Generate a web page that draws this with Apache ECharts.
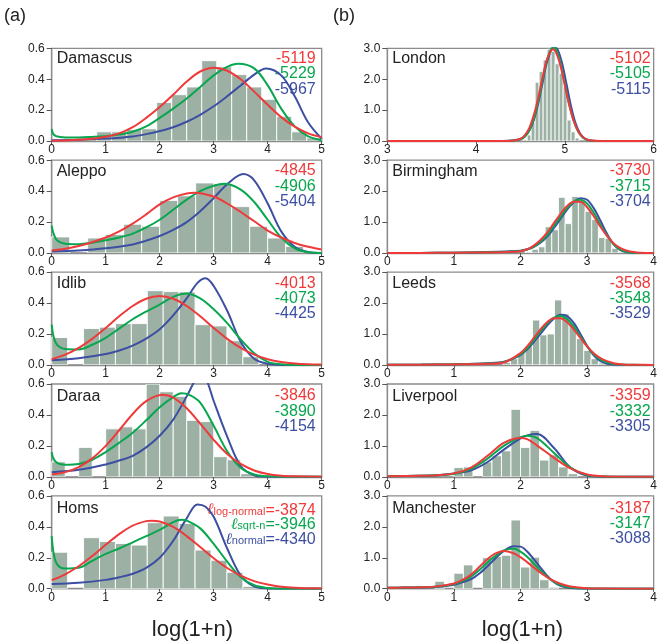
<!DOCTYPE html>
<html><head><meta charset="utf-8">
<script src="https://cdn.jsdelivr.net/npm/echarts@6.0.0/dist/echarts.min.js"></script>
<style>html,body{margin:0;padding:0;background:#fff}#c{width:660px;height:644px}</style>
</head><body><div id="c"></div>
<script>
// ---------- histogram data: [first bin edge, bin width] and bar heights ----------
const damascusBins = [0, 0.2778];
const damascusHist = [0,0,0,0.06,0.06,0.075,0.08,0.25,0.30,0.35,0.52,0.48,0.43,0.35,0.27,0.16,0.06,0.02];
const aleppoBins = [0, 0.3333];
const aleppoHist = [0.104,0,0.097,0.12,0.186,0.173,0.34,0.37,0.453,0.449,0.30,0.173,0.097,0.043];
const idlibBins = [0, 0.295];
const idlibHist = [0.177,0,0.235,0.244,0.267,0.267,0.48,0.474,0.472,0.26,0.252,0.156,0.053];
const daraaBins = [0, 0.25];
const daraaHist = [0.097,0,0.19,0,0.31,0.323,0.31,0.6,0.55,0.52,0.365,0.357,0.13,0.11,0.02];
const homsBins = [0, 0.295];
const homsHist = [0.236,0,0.33,0.305,0.292,0.282,0.427,0.47,0.422,0.25,0.184,0.106,0.015];
const londonBins = [4.53, 0.045];
const londonHist = [0.05,0.2,0.6,1.9,2.25,2.62,2.97,2.9,2.5,2.19,1.76,0.68,0.3,0.1];
const birminghamBins = [2.07, 0.1];
const birminghamHist = [0.03,0.12,0.2,0.85,0.75,1.8,0.95,1.83,1.7,1.35,1.08,0.5,0.48,0.15,0.03];
const leedsBins = [1.74, 0.11];
const leedsHist = [0.08,0.2,0.4,0.62,1.45,0.97,1.0,2.1,1.65,1.35,0.85,0.47,0.2,0.06];
const liverpoolBins = [1.0, 0.1429];
const liverpoolHist = [0.3,0.32,0,0.48,0.68,0.84,2.18,0.95,1.5,0.54,0.71,0.32,0.1];
const manchesterBins = [0.714, 0.1429];
const manchesterHist = [0.24,0,0.5,0.77,0,1.0,1.04,1.08,2.22,0.7,1.02,0.29,0.05];

// ---------- fitted curves ----------
const damascusRed = [[0,0.002],[0.25,0.004],[0.5,0.008],[0.75,0.015],[1,0.028],[1.25,0.05],[1.5,0.09],[1.75,0.15],[2,0.22],[2.25,0.30],[2.5,0.385],[2.75,0.45],[3,0.475],[3.25,0.455],[3.5,0.40],[3.75,0.32],[4,0.235],[4.25,0.155],[4.5,0.093],[4.75,0.05],[5,0.025]];
const damascusGreen = [[0,0.078],[0.03,0.045],[0.08,0.032],[0.15,0.027],[0.25,0.024],[0.5,0.024],[0.75,0.027],[1,0.032],[1.25,0.042],[1.5,0.06],[1.75,0.095],[2,0.15],[2.25,0.21],[2.5,0.275],[2.75,0.35],[3,0.425],[3.25,0.48],[3.45,0.50],[3.75,0.47],[4,0.36],[4.25,0.21],[4.5,0.095],[4.75,0.03],[5,0.006]];
const damascusBlue = [[0,0.006],[0.5,0.009],[1,0.016],[1.5,0.03],[1.75,0.045],[2,0.065],[2.25,0.09],[2.5,0.125],[2.75,0.17],[3,0.225],[3.25,0.29],[3.5,0.36],[3.75,0.43],[3.97,0.47],[4.25,0.425],[4.5,0.29],[4.75,0.12],[5,0.015]];

const aleppoRed = [[0,0.016],[0.25,0.027],[0.5,0.045],[0.75,0.07],[1,0.10],[1.25,0.14],[1.5,0.19],[1.75,0.25],[2,0.315],[2.25,0.36],[2.5,0.385],[2.65,0.39],[3,0.365],[3.25,0.32],[3.5,0.265],[3.75,0.205],[4,0.145],[4.25,0.10],[4.5,0.065],[4.75,0.04],[5,0.022]];
const aleppoGreen = [[0,0.177],[0.03,0.13],[0.08,0.09],[0.15,0.07],[0.25,0.06],[0.5,0.057],[0.75,0.067],[1,0.083],[1.25,0.10],[1.5,0.125],[1.75,0.165],[2,0.215],[2.25,0.28],[2.5,0.345],[2.75,0.40],[3,0.435],[3.2,0.447],[3.5,0.41],[3.75,0.33],[4,0.215],[4.25,0.10],[4.5,0.03],[4.75,0.005],[5,0]];
const aleppoBlue = [[0,0.01],[0.5,0.016],[1,0.03],[1.5,0.055],[1.75,0.08],[2,0.11],[2.25,0.15],[2.5,0.20],[2.75,0.27],[3,0.355],[3.25,0.445],[3.55,0.51],[3.75,0.47],[4,0.32],[4.25,0.14],[4.5,0.04],[4.75,0.006],[5,0]];

const idlibRed = [[0,0.037],[0.25,0.066],[0.5,0.11],[0.75,0.168],[1,0.239],[1.25,0.314],[1.5,0.381],[1.75,0.428],[2,0.445],[2.25,0.428],[2.5,0.381],[2.75,0.314],[3,0.239],[3.25,0.168],[3.5,0.11],[3.75,0.066],[4,0.037],[4.25,0.019],[4.5,0.009],[4.75,0.004],[5,0.002]];
const idlibGreen = [[0,0.26],[0.03,0.19],[0.08,0.14],[0.15,0.115],[0.25,0.103],[0.5,0.10],[0.75,0.13],[1,0.175],[1.25,0.235],[1.5,0.295],[1.75,0.345],[2,0.39],[2.25,0.44],[2.5,0.462],[2.75,0.43],[3,0.36],[3.25,0.27],[3.5,0.165],[3.75,0.075],[4,0.02],[4.25,0.004],[4.5,0],[5,0]];
const idlibBlue = [[0,0.03],[0.5,0.043],[1,0.07],[1.25,0.093],[1.5,0.125],[1.75,0.17],[2,0.23],[2.25,0.32],[2.5,0.43],[2.7,0.53],[2.85,0.56],[3,0.51],[3.25,0.35],[3.5,0.15],[3.75,0.04],[4,0.007],[4.25,0],[5,0]];

const daraaRed = [[0,0.015],[0.25,0.03],[0.5,0.063],[0.75,0.119],[1,0.2],[1.25,0.301],[1.5,0.406],[1.75,0.489],[2.05,0.53],[2.25,0.512],[2.5,0.443],[2.75,0.344],[3,0.239],[3.25,0.148],[3.5,0.083],[3.75,0.041],[4,0.018],[4.25,0.007],[4.5,0.003],[5,0.001]];
const daraaGreen = [[0,0.16],[0.03,0.12],[0.08,0.095],[0.15,0.083],[0.25,0.078],[0.5,0.083],[0.75,0.11],[1,0.16],[1.25,0.22],[1.5,0.285],[1.75,0.365],[2,0.45],[2.25,0.515],[2.4,0.54],[2.55,0.53],[2.75,0.48],[3,0.33],[3.25,0.165],[3.5,0.058],[3.75,0.015],[4,0.003],[4.25,0],[5,0]];
const daraaBlue = [[0,0.03],[0.5,0.045],[1,0.08],[1.25,0.105],[1.5,0.135],[1.75,0.19],[2,0.265],[2.25,0.37],[2.5,0.52],[2.65,0.62],[2.75,0.66],[2.85,0.64],[3,0.49],[3.25,0.26],[3.5,0.07],[3.75,0.01],[4,0],[5,0]];

const homsRed = [[0,0.055],[0.25,0.093],[0.5,0.145],[0.75,0.211],[1,0.284],[1.25,0.353],[1.5,0.408],[1.75,0.437],[1.85,0.44],[2,0.434],[2.25,0.399],[2.5,0.34],[2.75,0.269],[3,0.197],[3.25,0.134],[3.5,0.084],[3.75,0.049],[4,0.027],[4.25,0.013],[4.5,0.006],[4.75,0.003],[5,0.001]];
const homsGreen = [[0,0.34],[0.03,0.24],[0.08,0.17],[0.15,0.14],[0.25,0.13],[0.5,0.135],[0.75,0.18],[1,0.225],[1.25,0.26],[1.5,0.30],[1.75,0.34],[2,0.38],[2.25,0.43],[2.4,0.445],[2.5,0.44],[2.75,0.39],[3,0.29],[3.25,0.175],[3.5,0.075],[3.75,0.022],[4,0.005],[4.25,0],[5,0]];
const homsBlue = [[0,0.03],[0.5,0.038],[1,0.057],[1.25,0.074],[1.5,0.097],[1.75,0.135],[2,0.2],[2.25,0.31],[2.5,0.455],[2.7,0.545],[2.85,0.53],[3,0.465],[3.25,0.26],[3.5,0.085],[3.75,0.015],[4,0.002],[4.25,0],[5,0]];

const londonRed = [[3,0],[4.3,0.001],[4.4,0.008],[4.5,0.077],[4.55,0.196],[4.6,0.43],[4.65,0.84],[4.7,1.41],[4.75,2.07],[4.8,2.65],[4.865,2.97],[4.9,2.87],[4.95,2.44],[5,1.80],[5.05,1.16],[5.1,0.65],[5.15,0.32],[5.2,0.136],[5.25,0.05],[5.3,0.017],[5.4,0.001],[6,0]];
const londonGreen = [[3,0],[4.3,0.002],[4.4,0.01],[4.5,0.055],[4.55,0.15],[4.6,0.35],[4.65,0.73],[4.7,1.30],[4.75,1.99],[4.8,2.64],[4.87,3.05],[4.9,2.97],[4.95,2.52],[5,1.85],[5.05,1.17],[5.1,0.64],[5.15,0.30],[5.2,0.12],[5.25,0.043],[5.3,0.013],[5.4,0.001],[6,0]];
const londonBlue = [[3,0],[4.3,0.004],[4.4,0.018],[4.5,0.07],[4.55,0.16],[4.6,0.34],[4.65,0.68],[4.7,1.22],[4.75,1.9],[4.8,2.56],[4.88,3.05],[4.92,2.95],[4.97,2.5],[5.02,1.82],[5.07,1.12],[5.12,0.58],[5.17,0.25],[5.22,0.09],[5.27,0.025],[5.35,0.003],[6,0]];

const birminghamX = [0,0.5,1.0,1.5,1.8,2.0,2.1,2.2,2.3,2.4,2.5,2.6,2.7,2.8,2.9,3.0,3.1,3.2,3.3,3.4,3.5,3.6,3.7,3.8,4.0];
const birminghamRed = [0,0.002,0.008,0.02,0.035,0.06,0.12,0.24,0.42,0.66,0.96,1.26,1.52,1.66,1.66,1.48,1.19,0.85,0.55,0.31,0.16,0.074,0.03,0.01,0.001];
const birminghamGreen = [0,0.003,0.01,0.025,0.04,0.065,0.11,0.2,0.36,0.58,0.87,1.17,1.45,1.66,1.72,1.6,1.3,0.92,0.56,0.28,0.11,0.035,0.01,0.002,0];
const birminghamBlue = [0,0.004,0.012,0.03,0.05,0.075,0.12,0.2,0.33,0.53,0.8,1.1,1.4,1.64,1.77,1.72,1.45,1.05,0.62,0.28,0.09,0.02,0.004,0,0];

const leedsX = [0,0.5,1.0,1.5,1.75,2.0,2.1,2.2,2.3,2.4,2.5,2.6,2.7,2.8,2.9,3.0,3.1,3.2,3.3,3.4,3.5,3.7,4.0];
const leedsRed = [0.002,0.006,0.015,0.035,0.08,0.38,0.60,0.87,1.15,1.38,1.51,1.51,1.38,1.15,0.87,0.60,0.38,0.22,0.12,0.055,0.022,0.003,0];
const leedsGreen = [0.003,0.008,0.02,0.045,0.09,0.34,0.54,0.8,1.08,1.34,1.52,1.58,1.48,1.24,0.92,0.6,0.34,0.17,0.075,0.028,0.009,0.001,0];
const leedsBlue = [0.004,0.01,0.025,0.055,0.1,0.32,0.5,0.74,1.0,1.27,1.49,1.62,1.58,1.36,1.0,0.62,0.31,0.12,0.04,0.01,0.002,0,0];

const liverpoolX = [0,0.5,0.75,1.0,1.25,1.5,1.75,2.0,2.1,2.25,2.5,2.75,3.0,3.25,3.5,4.0];
const liverpoolRed = [0.02,0.03,0.05,0.11,0.29,0.67,1.10,1.257,1.22,1.01,0.62,0.27,0.075,0.015,0.002,0];
const liverpoolGreen = [0.02,0.03,0.05,0.1,0.25,0.58,1.0,1.28,1.33,1.25,0.78,0.3,0.06,0.008,0.001,0];
const liverpoolBlue = [0.02,0.03,0.05,0.11,0.2,0.47,0.88,1.24,1.34,1.38,0.94,0.3,0.04,0.003,0,0];

const manchesterX = [0,0.25,0.5,0.75,1.0,1.1,1.25,1.4,1.5,1.6,1.75,1.9,2.0,2.1,2.25,2.4,2.5,2.6,2.75,3.0,3.25,4.0];
const manchesterRed = [0.03,0.035,0.045,0.075,0.17,0.25,0.44,0.74,0.95,1.11,1.22,1.14,1.02,0.86,0.60,0.37,0.25,0.16,0.072,0.014,0.003,0];
const manchesterGreen = [0.03,0.035,0.045,0.07,0.15,0.22,0.38,0.64,0.84,1.02,1.24,1.29,1.2,1.03,0.7,0.39,0.23,0.12,0.04,0.005,0,0];
const manchesterBlue = [0.03,0.035,0.04,0.065,0.13,0.19,0.3,0.52,0.72,0.93,1.22,1.37,1.36,1.2,0.82,0.42,0.22,0.09,0.02,0.001,0,0];

// ---------- log-likelihood scores [log-normal, sqrt-n, normal] ----------
const damascusScores = [-5119,-5229,-5967];
const aleppoScores = [-4845,-4906,-5404];
const idlibScores = [-4013,-4073,-4425];
const daraaScores = [-3846,-3890,-4154];
const homsScores = [-3874,-3946,-4340];
const londonScores = [-5102,-5105,-5115];
const birminghamScores = [-3730,-3715,-3704];
const leedsScores = [-3568,-3548,-3529];
const liverpoolScores = [-3359,-3332,-3305];
const manchesterScores = [-3187,-3147,-3088];
const modelNames = ['log-normal','sqrt-n','normal'];

const leftRange = [0, 5, 0.6, 0.2];
const londonRange = [3, 6, 3, 1];
const rightRange = [0, 4, 3, 1];

function zip(xs, ys){ return xs.map((x,i)=>[x, ys[i]]); }

const panels = [
 {title:'Damascus', col:0,row:0, r:leftRange, bins:damascusBins, hist:damascusHist, red:damascusRed, green:damascusGreen, blue:damascusBlue, scores:damascusScores},
 {title:'Aleppo', col:0,row:1, r:leftRange, bins:aleppoBins, hist:aleppoHist, red:aleppoRed, green:aleppoGreen, blue:aleppoBlue, scores:aleppoScores},
 {title:'Idlib', col:0,row:2, r:leftRange, bins:idlibBins, hist:idlibHist, red:idlibRed, green:idlibGreen, blue:idlibBlue, scores:idlibScores},
 {title:'Daraa', col:0,row:3, r:leftRange, bins:daraaBins, hist:daraaHist, red:daraaRed, green:daraaGreen, blue:daraaBlue, scores:daraaScores},
 {title:'Homs', col:0,row:4, r:leftRange, bins:homsBins, hist:homsHist, red:homsRed, green:homsGreen, blue:homsBlue, scores:homsScores, legend:true},
 {title:'London', col:1,row:0, r:londonRange, bins:londonBins, hist:londonHist, red:londonRed, green:londonGreen, blue:londonBlue, scores:londonScores},
 {title:'Birmingham', col:1,row:1, r:rightRange, bins:birminghamBins, hist:birminghamHist, red:zip(birminghamX,birminghamRed), green:zip(birminghamX,birminghamGreen), blue:zip(birminghamX,birminghamBlue), scores:birminghamScores},
 {title:'Leeds', col:1,row:2, r:rightRange, bins:leedsBins, hist:leedsHist, red:zip(leedsX,leedsRed), green:zip(leedsX,leedsGreen), blue:zip(leedsX,leedsBlue), scores:leedsScores},
 {title:'Liverpool', col:1,row:3, r:rightRange, bins:liverpoolBins, hist:liverpoolHist, red:zip(liverpoolX,liverpoolRed), green:zip(liverpoolX,liverpoolGreen), blue:zip(liverpoolX,liverpoolBlue), scores:liverpoolScores},
 {title:'Manchester', col:1,row:4, r:rightRange, bins:manchesterBins, hist:manchesterHist, red:zip(manchesterX,manchesterRed), green:zip(manchesterX,manchesterGreen), blue:zip(manchesterX,manchesterBlue), scores:manchesterScores}
];

const RED='#ee3a3a', GREEN='#08a64f', BLUE='#3d4fa2', BAR='#9cb1a3', FRAME='#8c8c8c';
const FONT='Liberation Sans, Arial, sans-serif';
const colLeft=[51.7, 387.3], colWidth=[270, 269.4];
const top0=48.3, rowStep=111.9, gridH=92.8;

const grid=[], xAxis=[], yAxis=[], series=[], graphic=[];
panels.forEach((p,i)=>{
  const gl=colLeft[p.col], gw=colWidth[p.col], gt=top0+p.row*rowStep;
  grid.push({left:gl, top:gt, width:gw, height:gridH, show:true, borderColor:FRAME, borderWidth:1.3, backgroundColor:'transparent'});
  const lab={color:'#222', fontSize:12, fontFamily:FONT};
  xAxis.push({gridIndex:i, type:'value', min:p.r[0], max:p.r[1], interval:1, splitLine:{show:false},
    axisLine:{show:true, onZero:false, lineStyle:{color:FRAME, width:1.3}},
    axisTick:{show:true, inside:false, length:3, lineStyle:{color:'#555'}},
    axisLabel:Object.assign({margin:3}, lab)});
  yAxis.push({gridIndex:i, type:'value', min:0, max:p.r[2], interval:p.r[3], splitLine:{show:false},
    axisLine:{show:true, onZero:false, lineStyle:{color:FRAME, width:1.3}},
    axisTick:{show:true, inside:false, length:5, lineStyle:{color:'#555'}},
    axisLabel:Object.assign({margin:7, formatter:v=>v.toFixed(1)}, lab)});
  const barData = p.hist.map((h,k)=>[p.bins[0]+k*p.bins[1], p.bins[0]+(k+1)*p.bins[1], h]).filter(d=>d[2]>0);
  series.push({type:'custom', xAxisIndex:i, yAxisIndex:i, data:barData, clip:true, silent:true,
    encode:{x:[0,1], y:2},
    renderItem:(params, api)=>{
      const a=api.coord([api.value(0), api.value(2)]), b=api.coord([api.value(1), 0]);
      return {type:'rect', shape:{x:a[0], y:a[1], width:b[0]-a[0], height:b[1]-a[1]},
        style:{fill:BAR, stroke:'#ffffff', lineWidth:0.9}};
    }});
  [[p.blue,BLUE],[p.green,GREEN],[p.red,RED]].forEach(([d,c])=>{
    series.push({type:'line', xAxisIndex:i, yAxisIndex:i, data:d, showSymbol:false, smooth:0.35,
      clip:true, silent:true, lineStyle:{color:c, width:2}, z:3});
  });
  graphic.push({type:'text', x:gl+5, y:gt+10.7+p.row*0.6, style:{text:p.title, fill:'#222', font:'16px '+FONT, textVerticalAlign:'middle'}});
  const cols=[RED,GREEN,BLUE];
  const ny = gt + 10.3 + p.row*0.5 + (p.legend?2:0);
  p.scores.forEach((s,k)=>{
    if(p.legend){
      graphic.push({type:'text', x:gl+gw-6, y:ny+k*14.6, style:{
        text:'{l|\u2113}{s|'+modelNames[k]+'}{n|='+s+'}', textAlign:'right', textVerticalAlign:'middle',
        rich:{l:{fill:cols[k], fontSize:16, fontStyle:'italic', fontFamily:'DejaVu Serif', verticalAlign:'bottom'},
              s:{fill:cols[k], fontSize:11, fontFamily:FONT, verticalAlign:'bottom', padding:[0,0,1,0]},
              n:{fill:cols[k], fontSize:16, fontFamily:FONT, verticalAlign:'bottom'}}}});
    } else {
      graphic.push({type:'text', x:gl+gw-6, y:ny+k*15.3, style:{text:String(s), fill:cols[k], font:'16px '+FONT, textAlign:'right', textVerticalAlign:'middle'}});
    }
  });
});
graphic.push({type:'text', x:4, y:16, style:{text:'(a)', fill:'#222', font:'18px '+FONT, textVerticalAlign:'middle'}});
graphic.push({type:'text', x:333, y:16, style:{text:'(b)', fill:'#222', font:'18px '+FONT, textVerticalAlign:'middle'}});
graphic.push({type:'text', x:192.5, y:630, style:{text:'log(1+n)', fill:'#222', font:'22px '+FONT, textAlign:'center', textVerticalAlign:'middle'}});
graphic.push({type:'text', x:522.5, y:630, style:{text:'log(1+n)', fill:'#222', font:'22px '+FONT, textAlign:'center', textVerticalAlign:'middle'}});

const chart = echarts.init(document.getElementById('c'), null, {renderer:'canvas'});
chart.setOption({animation:false, backgroundColor:'#fff', grid, xAxis, yAxis, series, graphic});
</script></body></html>
